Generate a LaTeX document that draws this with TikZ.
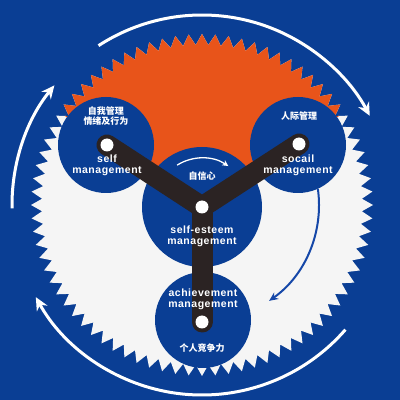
\documentclass[tikz,border=0pt]{standalone}
\usepackage{fontspec}
\setmainfont{Liberation Sans}
\newfontfamily\lat{Liberation Sans}[LetterSpace=5]
\newfontfamily\cjk{Noto Sans CJK SC}
\usetikzlibrary{arrows.meta}
\definecolor{bg}{HTML}{0A3E94}
\definecolor{org}{HTML}{E8541A}
\definecolor{wht}{HTML}{F5F5F5}
\definecolor{armc}{HTML}{2B2323}
\definecolor{inarrow}{HTML}{1547A8}
\tikzset{
  circ/.style={circle, fill=bg, inner sep=0pt},
  dotc/.style={circle, fill=white, inner sep=0pt, minimum size=13pt},
  entxt/.style={text=white, align=center, font=\lat\bfseries\fontsize{10.5}{10.9}\selectfont, inner sep=0pt},
  cntxt/.style={text=white, align=center, font=\cjk\bfseries\fontsize{9}{10}\selectfont, inner sep=0pt},
  outarc/.style={draw=white, line width=3pt, -{Stealth[length=13pt,width=12pt]}},
}
\begin{document}
\begin{tikzpicture}[x=1pt,y=1pt]
\fill[bg] (0,0) rectangle (400,400);
\useasboundingbox (0,0) rectangle (400,400);
\begin{scope}[shift={(202,195)}]
  % white gear
  \fill[wht] (0:171) \foreach \i in {1,...,80}{ -- ({\i*4.5-2.25}:160) -- ({\i*4.5}:171)} -- cycle;
  % orange sector of gear
  \begin{scope}
    \clip (0,0) -- (33:220) arc[start angle=33, end angle=147, radius=220] -- cycle;
    \fill[org] (0:171) \foreach \i in {1,...,80}{ -- ({\i*4.5-2.25}:160) -- ({\i*4.5}:171)} -- cycle;
  \end{scope}
  % outer arrows
  \coordinate (ta) at (123:190);
  \coordinate (la) at (181:190);
  \coordinate (ba) at (-41:190);
  \coordinate (ia) at (8:117);
  \coordinate (sa) at (122:47);
  \draw[outarc] (ta) arc[start angle=123, end angle=28, radius=190];
  \draw[outarc] (la) arc[start angle=181, end angle=141, radius=190];
  \draw[outarc] (ba) arc[start angle=-41, end angle=-151, radius=190];
  \draw[inarrow, line width=2pt, -{Stealth[length=9pt,width=8pt]}] (ia) arc[start angle=8, end angle=-55, radius=117];
\end{scope}
% circles
\node[circ, minimum size=96pt] (selfc) at (106,255) {};
\node[circ, minimum size=96pt] (socc) at (298,255) {};
\node[circ, minimum size=120pt] (estc) at (202,193) {};
\node[circ, minimum size=96pt] (achc) at (203,80) {};
% small white arrow
\begin{scope}[shift={(202,195)}]
  \draw[white, line width=1.3pt, -{Stealth[length=6pt,width=6pt]}] (sa) arc[start angle=122, end angle=56, radius=47];
\end{scope}
% Y arms
\coordinate (pL) at (107,255);
\coordinate (pR) at (299,256);
\coordinate (pC) at (202,193);
\coordinate (pB) at (202,78);
\draw[armc, line width=21pt, line cap=round, line join=round] (pL) -- (pC) -- (pR);
\draw[armc, line width=21pt, line cap=round, line join=round] (pC) -- (pB);
\node[dotc] (dL) at (pL) {};
\node[dotc] (dR) at (pR) {};
\node[dotc] (dC) at (pC) {};
\node[dotc] (dB) at (pB) {};
% texts
\node[cntxt] (t1) at (106,283.5) {自我管理\\情绪及行为};
\node[entxt] (t2) at (107,234.6) {self\\management};
\node[cntxt] (t3) at (299,284) {人际管理};
\node[entxt] (t4) at (298,234.6) {socail\\management};
\node[cntxt] (t5) at (202,224) {自信心};
\node[entxt] (t6) at (202,163.6) {self-esteem\\management};
\node[entxt] (t7) at (203,100.8) {achievement\\management};
\node[cntxt] (t8) at (202,52) {个人竞争力};
\end{tikzpicture}
\end{document}
